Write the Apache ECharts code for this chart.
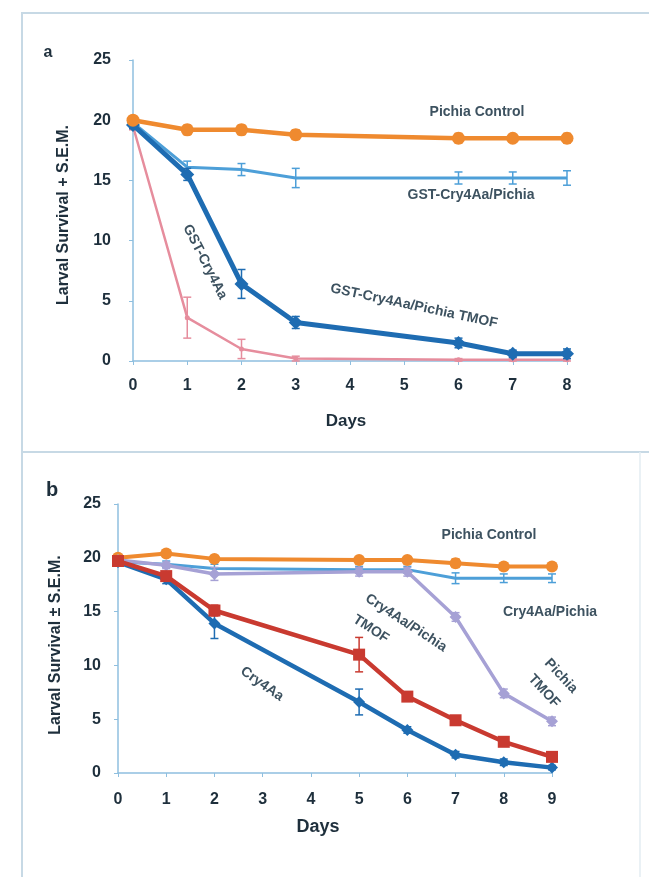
<!DOCTYPE html>
<html>
<head>
<meta charset="utf-8">
<script src="https://cdn.jsdelivr.net/npm/echarts@6/dist/echarts.min.js"></script>
<style>html,body{margin:0;padding:0;background:#fff;}#c{width:650px;height:879px;}</style>
</head>
<body>
<div id="c"></div>
<script>
// ---------- Panel a data ----------
const daysA = [0, 1, 2, 3, 6, 7, 8];
const xTicksA = [0, 1, 2, 3, 4, 5, 6, 7, 8];
const pichiaControlA = [20, 19.2, 19.2, 18.8, 18.5, 18.5, 18.5];
const pichiaControlErrA = [0.3, 0.4, 0.4, 0.4, 0.4, 0.3, 0.4];
const gstCryPichiaA = [19.8, 16.1, 15.9, 15.2, 15.2, 15.2, 15.2];
const gstCryPichiaErrA = [0.3, 0.5, 0.5, 0.8, 0.5, 0.5, 0.6];
const gstCryPichiaTmofA = [19.6, 15.5, 6.4, 3.2, 1.5, 0.6, 0.6];
const gstCryPichiaTmofErrA = [0.3, 0.5, 1.2, 0.5, 0.4, 0.3, 0.4];
const gstCryA = [19.5, 3.6, 1.0, 0.2, 0.1, 0.1, 0.1];
const gstCryErrA = [0.3, 1.7, 0.8, 0.2, 0.1, 0.1, 0.1];

// ---------- Panel b data ----------
const daysB = [0, 1, 2, 5, 6, 7, 8, 9];
const xTicksB = [0, 1, 2, 3, 4, 5, 6, 7, 8, 9];
const pichiaControlB = [20, 20.4, 19.9, 19.8, 19.8, 19.5, 19.2, 19.2];
const pichiaControlErrB = [0.3, 0.3, 0.3, 0.3, 0.3, 0.4, 0.3, 0.3];
const cryPichiaB = [19.6, 19.4, 19.0, 18.9, 18.9, 18.1, 18.1, 18.1];
const cryPichiaErrB = [0.3, 0.3, 0.4, 0.3, 0.3, 0.5, 0.4, 0.4];
const pichiaTmofB = [19.8, 19.3, 18.5, 18.7, 18.7, 14.5, 7.4, 4.8];
const pichiaTmofErrB = [0.3, 0.3, 0.6, 0.4, 0.4, 0.4, 0.4, 0.4];
const cryPichiaTmofB = [19.7, 18.3, 15.1, 11.0, 7.1, 4.9, 2.9, 1.5];
const cryPichiaTmofErrB = [0.3, 0.4, 0.5, 1.6, 0.4, 0.4, 0.3, 0.3];
const cry4AaB = [19.6, 18.0, 13.9, 6.6, 4.0, 1.7, 1.0, 0.5];
const cry4AaErrB = [0.3, 0.4, 1.4, 1.2, 0.3, 0.3, 0.3, 0.2];

const C = {
  orange: '#ef8a2f', lightBlue: '#4d9fd8', darkBlue: '#1e6cb2', pink: '#e68d9d',
  red: '#c93a30', lavender: '#a6a1d5', axis: '#8fbfdf', text: '#1e2f3c', note: '#3d5260', frame: '#c7d9e5'
};

function pairs(xs, ys) { return xs.map((x, i) => [x, ys[i]]); }
function errs(xs, ys, es) { return xs.map((x, i) => [x, ys[i] - es[i], ys[i] + es[i]]); }

function errorSeries(xi, yi, data, color, z) {
  return {
    type: 'custom', xAxisIndex: xi, yAxisIndex: yi, z: z, silent: true,
    data: data,
    encode: { x: 0, y: [1, 2] },
    renderItem: function (params, api) {
      const lo = api.coord([api.value(0), Math.max(0, api.value(1))]);
      const hi = api.coord([api.value(0), api.value(2)]);
      const w = 4;
      const st = { stroke: color, lineWidth: 1.5 };
      return {
        type: 'group', children: [
          { type: 'line', shape: { x1: lo[0], y1: lo[1], x2: hi[0], y2: hi[1] }, style: st },
          { type: 'line', shape: { x1: lo[0] - w, y1: lo[1], x2: lo[0] + w, y2: lo[1] }, style: st },
          { type: 'line', shape: { x1: hi[0] - w, y1: hi[1], x2: hi[0] + w, y2: hi[1] }, style: st }
        ]
      };
    }
  };
}

function lineSeries(xi, yi, data, color, width, symbol, size, z) {
  return {
    type: 'line', xAxisIndex: xi, yAxisIndex: yi, data: data, z: z,
    symbol: symbol, symbolSize: size, showSymbol: symbol !== 'none',
    lineStyle: { color: color, width: width },
    itemStyle: { color: color },
    animation: false
  };
}

const tickFont = { fontFamily: 'Liberation Sans', fontWeight: 'bold', fontSize: 16, color: C.text };

function xAxis(gi, max, margin) {
  return {
    type: 'value', gridIndex: gi, min: 0, max: max, interval: 1,
    axisLine: { show: true, lineStyle: { color: C.axis, width: 1.5 } },
    axisTick: { show: true, length: 4, lineStyle: { color: C.axis } },
    splitLine: { show: false },
    axisLabel: Object.assign({ margin: margin }, tickFont)
  };
}
function yAxis(gi, margin) {
  return {
    type: 'value', gridIndex: gi, min: 0, max: 25, interval: 5,
    axisLine: { show: true, lineStyle: { color: C.axis, width: 1.5 } },
    axisTick: { show: true, length: 4, lineStyle: { color: C.axis } },
    splitLine: { show: false },
    axisLabel: Object.assign({ margin: margin }, tickFont)
  };
}

// deg > 0 means clockwise tilt on screen
function note(text, x, y, deg, size) {
  return {
    type: 'text', x: x, y: y, rotation: -deg * Math.PI / 180, z: 50,
    style: { text: text, align: 'center', verticalAlign: 'middle', fill: C.note,
      font: 'bold ' + (size || 14) + 'px "Liberation Sans"' }
  };
}
function title(text, x, y, deg, size) {
  return {
    type: 'text', x: x, y: y, rotation: deg * Math.PI / 180, z: 50,
    style: { text: text, align: 'center', verticalAlign: 'middle', fill: C.text,
      font: 'bold ' + size + 'px "Liberation Sans"' }
  };
}

const chart = echarts.init(document.getElementById('c'), null, { renderer: 'canvas' });
chart.setOption({
  backgroundColor: '#fff',
  animation: false,
  grid: [
    { left: 133, top: 60, width: 434, height: 301 },
    { left: 118, top: 504, width: 434, height: 269 }
  ],
  xAxis: [xAxis(0, 8, 17), xAxis(1, 9, 19)],
  yAxis: [yAxis(0, 22), yAxis(1, 17)],
  series: [
    // panel a
    errorSeries(0, 0, errs(daysA, gstCryA, gstCryErrA), C.pink, 2),
    lineSeries(0, 0, pairs(daysA, gstCryA), C.pink, 2.5, 'circle', 5, 3),
    errorSeries(0, 0, errs(daysA, gstCryPichiaA, gstCryPichiaErrA), C.lightBlue, 4),
    lineSeries(0, 0, pairs(daysA, gstCryPichiaA), C.lightBlue, 3, 'none', 0, 5),
    errorSeries(0, 0, errs(daysA, gstCryPichiaTmofA, gstCryPichiaTmofErrA), C.darkBlue, 6),
    lineSeries(0, 0, pairs(daysA, gstCryPichiaTmofA), C.darkBlue, 5, 'diamond', 14, 7),
    errorSeries(0, 0, errs(daysA, pichiaControlA, pichiaControlErrA), C.orange, 8),
    lineSeries(0, 0, pairs(daysA, pichiaControlA), C.orange, 4.5, 'circle', 13, 9),
    // panel b
    errorSeries(1, 1, errs(daysB, cryPichiaB, cryPichiaErrB), C.lightBlue, 2),
    lineSeries(1, 1, pairs(daysB, cryPichiaB), C.lightBlue, 3, 'none', 0, 3),
    errorSeries(1, 1, errs(daysB, pichiaControlB, pichiaControlErrB), C.orange, 4),
    lineSeries(1, 1, pairs(daysB, pichiaControlB), C.orange, 4, 'circle', 12, 5),
    errorSeries(1, 1, errs(daysB, pichiaTmofB, pichiaTmofErrB), C.lavender, 6),
    lineSeries(1, 1, pairs(daysB, pichiaTmofB), C.lavender, 3.5, 'diamond', 12, 7),
    errorSeries(1, 1, errs(daysB, cry4AaB, cry4AaErrB), C.darkBlue, 8),
    lineSeries(1, 1, pairs(daysB, cry4AaB), C.darkBlue, 4.5, 'diamond', 12, 9),
    errorSeries(1, 1, errs(daysB, cryPichiaTmofB, cryPichiaTmofErrB), C.red, 10),
    lineSeries(1, 1, pairs(daysB, cryPichiaTmofB), C.red, 4.5, 'rect', 12, 11)
  ],
  graphic: [
    // frames
    { type: 'polyline', z: 1, shape: { points: [[649, 13], [22, 13], [22, 877]] }, style: { stroke: C.frame, lineWidth: 2, fill: null } },
    { type: 'line', z: 1, shape: { x1: 22, y1: 452, x2: 649, y2: 452 }, style: { stroke: C.frame, lineWidth: 2 } },
    { type: 'line', z: 1, shape: { x1: 640, y1: 452, x2: 640, y2: 877 }, style: { stroke: '#e3ecf2', lineWidth: 1.5 } },
    // panel letters
    title('a', 48, 53, 0, 16),
    title('b', 52, 490, 0, 20),
    // axis titles
    title('Larval Survival + S.E.M.', 64, 215, 90, 16),
    title('Days', 346, 421, 0, 17),
    title('Larval Survival \u00b1 S.E.M.', 56, 645, 90, 16),
    title('Days', 318, 827, 0, 18),
    // panel a annotations
    note('Pichia Control', 477, 112, 0, 14),
    note('GST-Cry4Aa/Pichia', 471, 195, 0, 14),
    note('GST-Cry4Aa', 205, 262, 63, 14),
    note('GST-Cry4Aa/Pichia TMOF', 414, 306, 12, 14),
    // panel b annotations
    note('Pichia Control', 489, 535, 0, 14),
    note('Cry4Aa/Pichia', 550, 612, 0, 14),
    note('Cry4Aa/Pichia', 406, 623, 33, 14),
    note('TMOF', 371, 629, 33, 14),
    note('Cry4Aa', 262, 684, 35, 14),
    note('Pichia', 561, 676, 47, 14),
    note('TMOF', 544, 691, 47, 14)
  ]
});
</script>
</body>
</html>
